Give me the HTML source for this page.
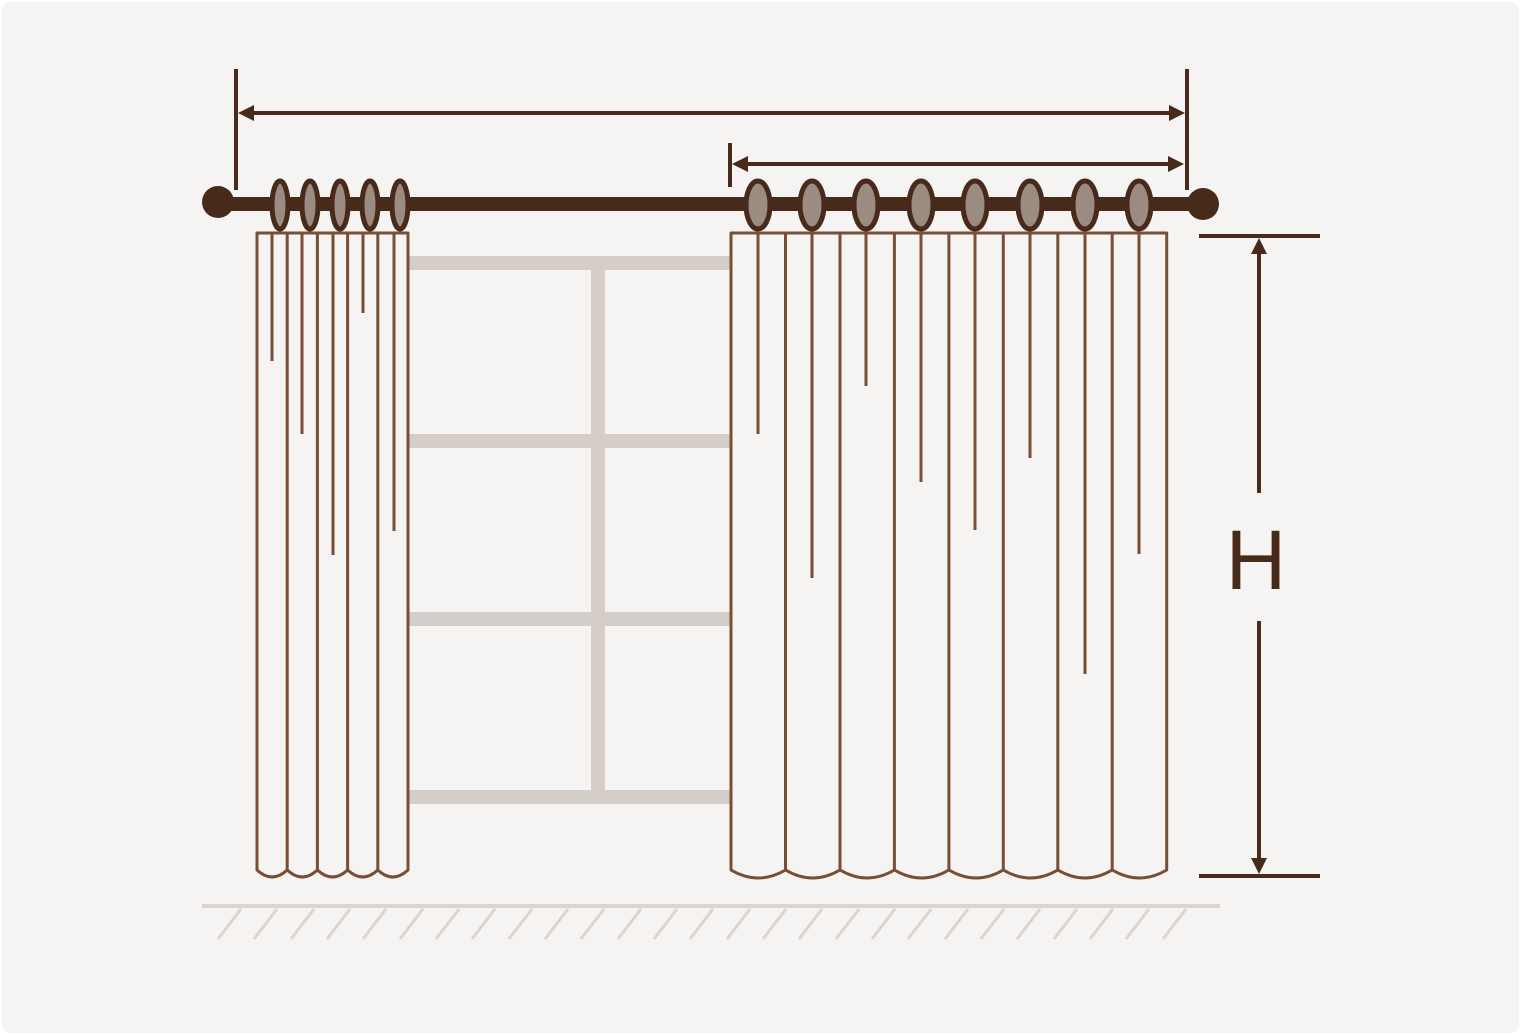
<!DOCTYPE html>
<html><head><meta charset="utf-8"><style>
html,body{margin:0;padding:0;background:#fff;}
svg{display:block;}
</style></head><body>
<svg width="1521" height="1035" viewBox="0 0 1521 1035" xmlns="http://www.w3.org/2000/svg">
<rect x="2" y="2" width="1517" height="1031" rx="8" fill="#f5f4f2"/>
<g stroke="#d4cdc8" stroke-width="14" fill="none">
<line x1="408" y1="263" x2="730" y2="263"/>
<line x1="408" y1="441" x2="730" y2="441"/>
<line x1="408" y1="619" x2="730" y2="619"/>
<line x1="408" y1="797" x2="730" y2="797"/>
<line x1="598" y1="263" x2="598" y2="797"/>
</g>
<line x1="202" y1="906" x2="1220" y2="906" stroke="#ddd4ce" stroke-width="4"/>
<g stroke="#ddd4ce" stroke-width="3">
<line x1="241" y1="909" x2="218" y2="939"/><line x1="277" y1="909" x2="254" y2="939"/><line x1="314" y1="909" x2="291" y2="939"/><line x1="350" y1="909" x2="327" y2="939"/><line x1="386" y1="909" x2="363" y2="939"/><line x1="423" y1="909" x2="400" y2="939"/><line x1="459" y1="909" x2="436" y2="939"/><line x1="495" y1="909" x2="472" y2="939"/><line x1="532" y1="909" x2="509" y2="939"/><line x1="568" y1="909" x2="545" y2="939"/><line x1="604" y1="909" x2="581" y2="939"/><line x1="641" y1="909" x2="618" y2="939"/><line x1="677" y1="909" x2="654" y2="939"/><line x1="713" y1="909" x2="690" y2="939"/><line x1="750" y1="909" x2="727" y2="939"/><line x1="786" y1="909" x2="763" y2="939"/><line x1="822" y1="909" x2="799" y2="939"/><line x1="859" y1="909" x2="836" y2="939"/><line x1="895" y1="909" x2="872" y2="939"/><line x1="931" y1="909" x2="908" y2="939"/><line x1="968" y1="909" x2="945" y2="939"/><line x1="1004" y1="909" x2="981" y2="939"/><line x1="1040" y1="909" x2="1017" y2="939"/><line x1="1077" y1="909" x2="1054" y2="939"/><line x1="1113" y1="909" x2="1090" y2="939"/><line x1="1149" y1="909" x2="1126" y2="939"/><line x1="1186" y1="909" x2="1163" y2="939"/>
</g>
<g stroke="#7a4e36" stroke-width="3" fill="#f5f4f2" stroke-linejoin="round">
<path d="M257,233 H408 V870 Q392.9,884 377.8,870 Q362.7,884 347.6,870 Q332.5,884 317.4,870 Q302.3,884 287.2,870 Q272.1,884 257,870 Z"/>
<line x1="287.2" y1="233" x2="287.2" y2="870"/>
<line x1="317.4" y1="233" x2="317.4" y2="870"/>
<line x1="347.6" y1="233" x2="347.6" y2="870"/>
<line x1="377.8" y1="233" x2="377.8" y2="870"/>
<line x1="272" y1="233" x2="272" y2="361"/>
<line x1="302" y1="233" x2="302" y2="434"/>
<line x1="333" y1="233" x2="333" y2="555"/>
<line x1="363" y1="233" x2="363" y2="313"/>
<line x1="394" y1="233" x2="394" y2="531"/>
</g>
<g stroke="#7a4e36" stroke-width="3" fill="#f5f4f2" stroke-linejoin="round">
<path d="M731,233 H1166.7 V870 Q1139.5,886 1112.2,870 Q1085,886 1057.8,870 Q1030.5,886 1003.3,870 Q976.1,886 948.9,870 Q921.6,886 894.4,870 Q867.2,886 840,870 Q812.7,886 785.5,870 Q758.2,886 731,870 Z"/>
<line x1="785.5" y1="233" x2="785.5" y2="870"/>
<line x1="840" y1="233" x2="840" y2="870"/>
<line x1="894.4" y1="233" x2="894.4" y2="870"/>
<line x1="948.9" y1="233" x2="948.9" y2="870"/>
<line x1="1003.3" y1="233" x2="1003.3" y2="870"/>
<line x1="1057.8" y1="233" x2="1057.8" y2="870"/>
<line x1="1112.2" y1="233" x2="1112.2" y2="870"/>
<line x1="758" y1="233" x2="758" y2="434"/>
<line x1="812" y1="233" x2="812" y2="578"/>
<line x1="866" y1="233" x2="866" y2="386"/>
<line x1="921" y1="233" x2="921" y2="482"/>
<line x1="975" y1="233" x2="975" y2="530"/>
<line x1="1030" y1="233" x2="1030" y2="458"/>
<line x1="1085" y1="233" x2="1085" y2="674"/>
<line x1="1139" y1="233" x2="1139" y2="554"/>
</g>
<line x1="218" y1="204" x2="1203" y2="204" stroke="#472a1a" stroke-width="14"/>
<circle cx="218" cy="202" r="16" fill="#472a1a"/>
<circle cx="1203" cy="204" r="16" fill="#472a1a"/>
<g fill="#9c8b80" stroke="#472a1a" stroke-width="5">
<ellipse cx="280" cy="205" rx="8" ry="24"/><ellipse cx="310" cy="205" rx="8" ry="24"/><ellipse cx="340" cy="205" rx="8" ry="24"/><ellipse cx="370" cy="205" rx="8" ry="24"/><ellipse cx="400" cy="205" rx="8" ry="24"/>
<ellipse cx="758" cy="205" rx="12" ry="24"/><ellipse cx="812" cy="205" rx="12" ry="24"/><ellipse cx="866" cy="205" rx="12" ry="24"/><ellipse cx="921" cy="205" rx="12" ry="24"/><ellipse cx="975" cy="205" rx="12" ry="24"/><ellipse cx="1030" cy="205" rx="12" ry="24"/><ellipse cx="1085" cy="205" rx="12" ry="24"/><ellipse cx="1139" cy="205" rx="12" ry="24"/>
</g>
<g stroke="#472a1a" stroke-width="4" fill="none">
<line x1="236" y1="69" x2="236" y2="190"/>
<line x1="1187" y1="69" x2="1187" y2="190"/>
<line x1="250" y1="113" x2="1172" y2="113"/>
<line x1="730" y1="143" x2="730" y2="187"/>
<line x1="744" y1="164" x2="1170" y2="164"/>
<line x1="1199" y1="236" x2="1320" y2="236"/>
<line x1="1199" y1="876" x2="1320" y2="876"/>
<line x1="1259" y1="250" x2="1259" y2="493"/>
<line x1="1259" y1="621" x2="1259" y2="862"/>
</g>
<g fill="#472a1a">
<polygon points="238,113 254,105 254,121"/>
<polygon points="1185,113 1169,105 1169,121"/>
<polygon points="732,164 748,156 748,172"/>
<polygon points="1184,164 1168,156 1168,172"/>
<polygon points="1259,238 1251,254 1267,254"/>
<polygon points="1259,874 1251,858 1267,858"/>
</g>
<text x="1256" y="589" text-anchor="middle" font-family="Liberation Sans, sans-serif" font-size="84" fill="#472a1a">H</text>
</svg>
</body></html>
